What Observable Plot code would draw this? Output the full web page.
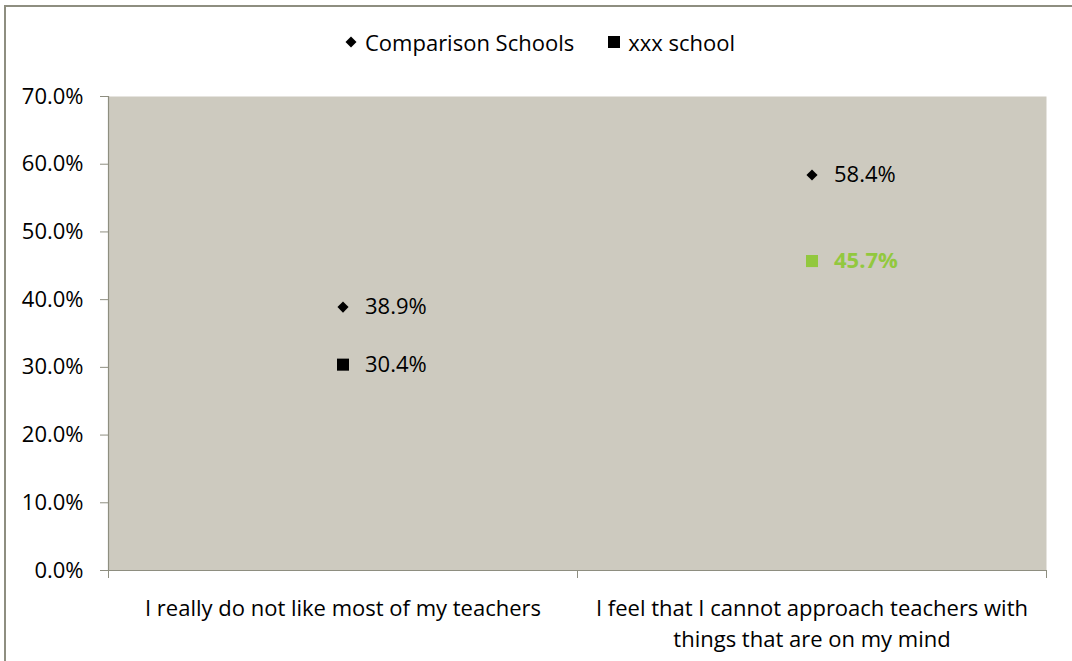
<!DOCTYPE html>
<html>
<head>
<meta charset="utf-8">
<script src="https://cdn.jsdelivr.net/npm/d3@7"></script>
<script src="https://cdn.jsdelivr.net/npm/@observablehq/plot@0.6"></script>
<style>
  html, body { margin: 0; padding: 0; background: #ffffff; }
  body { font-family: "Open Sans", sans-serif; width: 1072px; height: 661px; overflow: hidden; position: relative; }
  #border { position: absolute; left: 4px; top: 5px; width: 1080px; height: 700px; border-left: 2px solid #8e8e80; border-top: 2px solid #8e8e80; pointer-events: none; box-sizing: border-box; }
  #legend { height: 60px; width: 1080px; display: flex; justify-content: center; align-items: flex-start; padding-top: 27px; box-sizing: border-box; font-size: 22px; color: #000; gap: 34px; }
  .item { display: flex; align-items: center; gap: 8px; line-height: 30px; }
  .item svg { display: block; }
  #chart svg { display: block; }
</style>
</head>
<body>
<div id="legend"></div>
<div id="chart"></div>
<div id="border"></div>
<script>
// ---- data ----
const categories = [
  "I really do not like most of my teachers",
  "I feel that I cannot approach teachers with things that are on my mind"
];
const categoryLabels = [
  "I really do not like most of my teachers",
  "I feel that I cannot approach teachers with\nthings that are on my mind"
];
const seriesNames = ["Comparison Schools", "xxx school"];
const comparisonValues = [38.9, 58.4];
const schoolValues = [30.4, 45.7];
const yTickValues = [0, 10, 20, 30, 40, 50, 60, 70];

// ---- styles ----
const bg = "#cdcabf";
const axisGray = "#8e8e80";
const green = "#92c83e";
const schoolColors = ["#000000", green];
const fontFamily = "'Open Sans', sans-serif";
const fs = 22;

// ---- legend ----
const legend = document.getElementById("legend");
const legendShapes = [
  '<svg width="12" height="12" viewBox="0 0 12 12"><path d="M6 0.5 L11.5 6 L6 11.5 L0.5 6 Z" fill="#000"/></svg>',
  '<svg width="12" height="12" viewBox="0 0 12 12"><rect x="0" y="0" width="12" height="12" fill="#000"/></svg>'
];
seriesNames.forEach((name, i) => {
  const it = document.createElement("div");
  it.className = "item";
  it.innerHTML = legendShapes[i] + "<span>" + name + "</span>";
  legend.appendChild(it);
});

// ---- rows ----
const comp = categories.map((c, i) => ({i, x: i + 0.5, y: comparisonValues[i]}));
const sch = categories.map((c, i) => ({i, x: i + 0.5, y: schoolValues[i], color: schoolColors[i]}));
const fmt = v => v.toFixed(1) + "%";

const chart = Plot.plot({
  width: 1072,
  height: 601,
  marginLeft: 108,
  marginRight: 26,
  marginTop: 36,
  marginBottom: 91,
  style: {fontFamily, fontSize: fs + "px", background: "transparent", color: "#000"},
  x: {type: "linear", domain: [0, categories.length]},
  y: {domain: [0, 70]},
  marks: [
    Plot.frame({fill: bg, stroke: null}),
    Plot.ruleX([0], {stroke: axisGray, strokeWidth: 1.2}),
    Plot.ruleY([0], {stroke: axisGray, strokeWidth: 1.2}),
    Plot.axisY({
      ticks: yTickValues, tickFormat: fmt, tickSize: 8, tickPadding: 17,
      stroke: axisGray, fill: "#000", fontSize: fs, label: null
    }),
    Plot.axisX({
      ticks: d3.range(categories.length + 1), tickFormat: () => "",
      tickSize: 8, stroke: axisGray, label: null
    }),
    Plot.axisX({
      ticks: categories.map((c, i) => i + 0.5),
      tickFormat: (d) => categoryLabels[Math.floor(d)],
      tickSize: 0, tickPadding: 24, fontSize: fs, lineHeight: 1.4, fill: "#000", label: null
    }),
    Plot.dot(comp, {x: "x", y: "y", symbol: "diamond2", r: 5, fill: "#000", stroke: null}),
    Plot.dot(sch, {x: "x", y: "y", symbol: "square", r: 6.8, fill: "color", stroke: null}),
    Plot.text(comp, {x: "x", y: "y", text: d => fmt(d.y), dx: 22, textAnchor: "start", fontSize: fs, fill: "#000"}),
    Plot.text(sch.filter(d => d.color === "#000000"), {x: "x", y: "y", text: d => fmt(d.y), dx: 22, textAnchor: "start", fontSize: fs, fill: "#000"}),
    Plot.text(sch.filter(d => d.color !== "#000000"), {x: "x", y: "y", text: d => fmt(d.y), dx: 22, textAnchor: "start", fontSize: fs, fontWeight: "bold", fill: "color"})
  ]
});
document.getElementById("chart").appendChild(chart);
</script>
</body>
</html>
